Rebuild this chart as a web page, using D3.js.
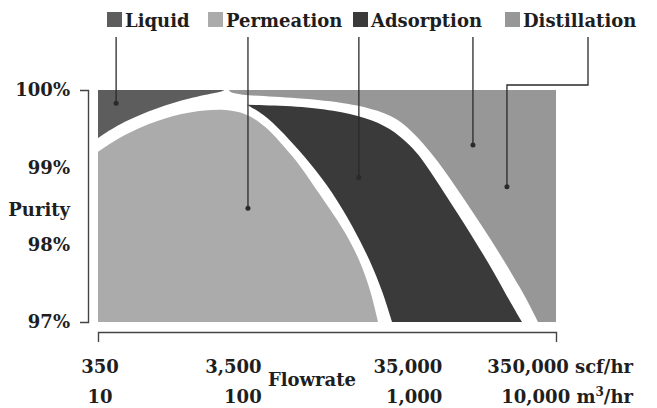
<!DOCTYPE html>
<html>
<head>
<meta charset="utf-8">
<script src="https://cdn.jsdelivr.net/npm/d3@7"></script>
<style>
    body { margin: 0; background: #fff; }
    svg text { font-family: "DejaVu Serif", serif; font-weight: bold; fill: #1e1e1e; }
</style>
</head>
<body>
<svg id="chart" width="657" height="408"></svg>
<script>
var processes = ["Liquid", "Permeation", "Adsorption", "Distillation"],
    colors = ["#5d5d5d", "#ababab", "#3a3a3a", "#979797"],
    purityTicks = [100, 99, 98, 97],
    scfTicks = [350, 3500, 35000, 350000],
    m3Ticks = [10, 100, 1000, 10000];

// region edges as [scf/hr, purity %]
var liquidEdge = [[350, 99.38], [510, 99.59], [850, 99.77], [1400, 99.90], [2200, 99.97], [2350, 100]],
    permeationEdge = [[350, 99.20], [510, 99.42], [850, 99.61], [1400, 99.72], [2300, 99.76], [3310, 99.70],
        [4480, 99.52], [5880, 99.25], [7370, 99.03], [9960, 98.64], [14090, 98.22], [18210, 97.80],
        [21490, 97.39], [23890, 97.0]],
    adsorptionLow = [[3310, 99.81], [4480, 99.66], [6330, 99.35], [8560, 99.06], [12120, 98.67],
        [16380, 98.23], [21170, 97.80], [25750, 97.38], [29500, 97.0]],
    adsorptionHigh = [[3310, 99.81], [7370, 99.79], [12120, 99.74], [20230, 99.64], [28620, 99.51],
        [38700, 99.29], [47080, 99.10], [78600, 98.42], [129400, 97.74], [174900, 97.26], [209600, 97.0]],
    distillationEdge = [[2520, 100], [2640, 99.935], [7370, 99.90], [15660, 99.83], [25750, 99.72],
        [34800, 99.59], [52300, 99.22], [78600, 98.73], [129400, 98.09], [212800, 97.39], [266800, 97.0]],
    pointers = [[460, 99.83], [3360, 98.47], [17900, 98.87], [100000, 99.29], [167000, 98.75]];

var svg = d3.select("#chart"),
    x = d3.scaleLog().domain([350, 350000]).range([98, 556]),
    y = d3.scaleLinear().domain([97, 100]).range([322, 90]),
    fmt = d3.format(","),
    edge = d3.line()
        .x(function (d) { return x(d[0]); })
        .y(function (d) { return y(d[1]); })
        .curve(d3.curveBasis);

function pt(f, p) {
    return x(f) + "," + y(p);
}

// shapes
var shapes = [
    edge(liquidEdge) + "L" + pt(350, 100) + "Z",
    edge(permeationEdge) + "L" + pt(350, 97) + "Z",
    edge(adsorptionHigh) + "L" + pt(29500, 97) + edge(adsorptionLow.slice().reverse()).replace(/^M/, "L") + "Z",
    edge(distillationEdge) + "L" + pt(350000, 97) + "L" + pt(350000, 100) + "Z"
];

svg.append("g").selectAll("path")
    .data(shapes)
    .join("path")
    .attr("d", function (d) { return d; })
    .attr("fill", function (d, i) { return colors[i]; });

// y bracket + labels
var yAxis = svg.append("g")
    .attr("transform", "translate(88,0)")
    .call(d3.axisLeft(y).tickValues(purityTicks)
        .tickFormat(function (d) { return d + "%"; })
        .tickSizeInner(0).tickSizeOuter(8).tickPadding(18));

// x bracket
var xAxis = svg.append("g")
    .attr("transform", "translate(0,332)")
    .call(d3.axisBottom(x).tickValues([]).tickSizeOuter(10));

[yAxis, xAxis].forEach(function (g) {
    g.attr("font-family", null).attr("font-size", null);
    g.select(".domain").attr("stroke", "#444").attr("stroke-width", 1.4);
});
yAxis.selectAll("text").attr("font-size", 18).attr("fill", "#1e1e1e");

svg.append("text")
    .attr("x", 70).attr("y", 216)
    .attr("text-anchor", "end")
    .attr("font-size", 18)
    .text("Purity");

// x tick labels, two unit rows
var labelAnchor = ["middle", "end", "end", "end"],
    labelDx = [2, 11, 39, 77];

svg.append("g").selectAll("text")
    .data(scfTicks)
    .join("text")
    .attr("x", function (d, i) { return x(d) + labelDx[i]; })
    .attr("y", 373)
    .attr("font-size", 18)
    .attr("text-anchor", function (d, i) { return labelAnchor[i]; })
    .text(function (d, i) { return fmt(d) + (i === scfTicks.length - 1 ? " scf/hr" : ""); });

var row2 = svg.append("g").selectAll("text")
    .data(m3Ticks)
    .join("text")
    .attr("x", function (d, i) { return x(d * 35) + labelDx[i]; })
    .attr("y", 403)
    .attr("font-size", 18)
    .attr("text-anchor", function (d, i) { return labelAnchor[i]; })
    .text(function (d) { return fmt(d); });

var last = row2.filter(function (d, i) { return i === m3Ticks.length - 1; });
last.append("tspan").text(" m");
last.append("tspan").attr("dy", -7).attr("font-size", 12).text("3");
last.append("tspan").attr("dy", 7).text("/hr");

svg.append("text")
    .attr("x", 268).attr("y", 386)
    .attr("font-size", 18)
    .text("Flowrate");

// legend
var legendX = [107, 208, 353, 505];
var legend = svg.append("g").selectAll("g")
    .data(processes)
    .join("g")
    .attr("transform", function (d, i) { return "translate(" + legendX[i] + ",12)"; });

legend.append("rect")
    .attr("width", 15).attr("height", 15)
    .attr("fill", function (d, i) { return colors[i]; });

legend.append("text")
    .attr("x", 18).attr("y", 15)
    .attr("font-size", 18)
    .text(function (d) { return d; });

// leader lines from the legend row into the regions
var elbowX = 588, elbowY = 85, leaderTop = 37;

pointers.forEach(function (p, i) {
    var px = x(p[0]), py = y(p[1]),
        d = (i === pointers.length - 1)
            ? "M" + elbowX + "," + leaderTop + "V" + elbowY + "H" + px + "V" + py
            : "M" + px + "," + leaderTop + "V" + py;

    svg.append("path")
        .attr("d", d)
        .attr("fill", "none")
        .attr("stroke", "#2a2a2a")
        .attr("stroke-width", 1.3);

    svg.append("circle")
        .attr("cx", px).attr("cy", py)
        .attr("r", 2.5)
        .attr("fill", "#2a2a2a");
});
</script>
</body>
</html>
